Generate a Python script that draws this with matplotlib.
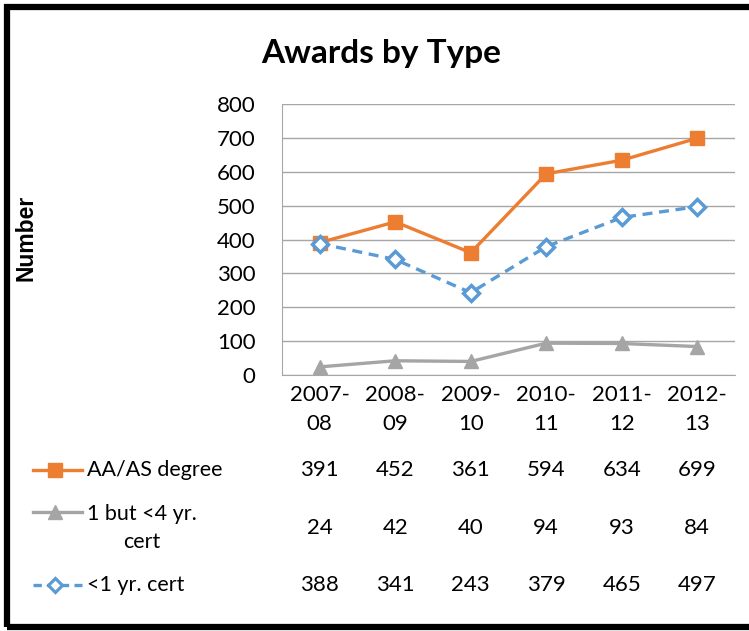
import matplotlib
matplotlib.use("Agg")
from matplotlib import pyplot as plt
from matplotlib.lines import Line2D
from matplotlib.patches import Rectangle
import matplotlib.transforms as mtrans
import numpy as np

years = ["2007-\n08", "2008-\n09", "2009-\n10", "2010-\n11", "2011-\n12", "2012-\n13"]
aa_as = [391, 452, 361, 594, 634, 699]
cert_1_4 = [24, 42, 40, 94, 93, 84]
cert_lt1 = [388, 341, 243, 379, 465, 497]

names = ["AA/AS degree", "1 but <4 yr.\ncert", "<1 yr. cert"]

c_orange = "#ED7D31"
c_grey = "#A5A5A5"
c_blue = "#5B9BD5"

plt.rcParams['font.family'] = ['Lato', 'DejaVu Sans']

W, H = 749, 631
fig = plt.figure(figsize=(W / 100, H / 100), dpi=100)

# plot area in pixels: left 282, right 735, top 104, bottom 375
ax = fig.add_axes([282 / W, 1 - 375 / H, (735 - 282) / W, (375 - 104) / H])

x = np.arange(len(years))
ax.plot(x, aa_as, '-s', color=c_orange, lw=2.4, ms=10, label=names[0])
ax.plot(x, cert_1_4, '-^', color=c_grey, lw=2.4, ms=10, label=names[1])
ax.plot(x, cert_lt1, '--D', color=c_blue, lw=2.4, ms=8.5, mfc='white', mew=2.5,
        dashes=(3, 2), label=names[2])

ax.set_xlim(-0.5, len(years) - 0.5)
ax.set_ylim(0, 800)
ax.set_yticks(range(0, 801, 100))
ax.set_xticks(x)
ax.set_xticklabels(years, fontsize=16, linespacing=1.6)
ax.tick_params(axis='y', labelsize=16, length=0, pad=19)
ax.tick_params(axis='x', length=0, pad=7)
ax.yaxis.grid(True, color="#A6A6A6", lw=1.0)
ax.set_axisbelow(True)
for s in ['top', 'right']:
    ax.spines[s].set_visible(False)
ax.spines['left'].set_color("#A6A6A6")
ax.spines['bottom'].set_color("#A6A6A6")

fig.text(381 / W, 1 - 53 / H, "Awards by Type", fontsize=24, fontweight='bold',
         ha='center', va='center')
fig.text(26 / W, 1 - 238 / H, "Number", fontsize=16.5, fontweight='bold',
         rotation=90, ha='center', va='center', family='Liberation Sans')

# data table under the chart
trans = mtrans.blended_transform_factory(ax.transData, fig.transFigure)
rows = [(aa_as, 470), (cert_1_4, 528), (cert_lt1, 585)]
for vals, ypix in rows:
    for i, v in enumerate(vals):
        ax.text(i, 1 - ypix / H, str(v), transform=trans, fontsize=16,
                ha='center', va='center', clip_on=False)

styles = [dict(color=c_orange, marker='s', ms=10, ls='-'),
          dict(color=c_grey, marker='^', ms=10, ls='-'),
          dict(color=c_blue, marker='D', ms=7.5, ls='--', mfc='white', mew=2.3, dashes=(2.5, 1.6))]
sym_y = [470, 512, 585]
for st, yp in zip(styles, sym_y):
    ln = Line2D([33 / W, 55 / W, 82 / W], [1 - yp / H] * 3, lw=2.4, transform=fig.transFigure,
                markevery=[1], **st)
    fig.add_artist(ln)

fig.text(87 / W, 1 - 470 / H, names[0], fontsize=15.5, ha='left', va='center')
fig.text(87 / W, 1 - 528 / H, names[1], fontsize=15.5, ha='left', va='center',
         multialignment='center', linespacing=1.5)
fig.text(87 / W, 1 - 585 / H, names[2], fontsize=15.5, ha='left', va='center')

# outer border
fig.add_artist(Rectangle((7 / W, 1 - 627 / H), (760 - 7) / W, (627 - 7) / H,
                         transform=fig.transFigure, fill=False, ec='black', lw=4.5))

fig.savefig("out.png", dpi=100)
